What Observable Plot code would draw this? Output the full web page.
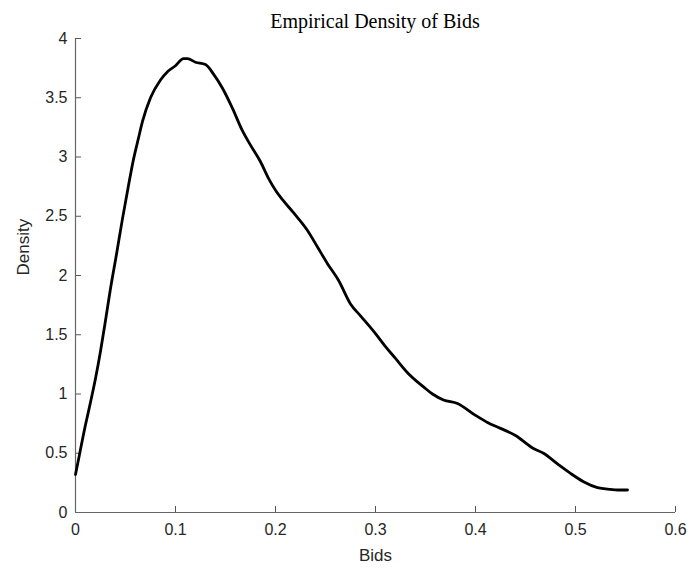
<!DOCTYPE html>
<html>
<head>
<meta charset="utf-8">
<script src="https://cdn.jsdelivr.net/npm/d3@7"></script>
<script src="https://cdn.jsdelivr.net/npm/@observablehq/plot@0.6"></script>
<style>
  html, body { margin: 0; padding: 0; background: #fff; }
  #wrap { position: relative; width: 691px; height: 571px; }
  #title { position: absolute; left: 75px; width: 600px; top: 10px; text-align: center;
           font-family: "Liberation Serif", "DejaVu Serif", serif; font-size: 20px; color: #000; }
</style>
</head>
<body>
<div id="wrap">
  <div id="title">Empirical Density of Bids</div>
</div>
<script>
const bids = [0, 0.004, 0.010, 0.015, 0.020, 0.025, 0.030, 0.035, 0.041, 0.047, 0.053, 0.058, 0.063, 0.067, 0.075, 0.085, 0.092, 0.100, 0.108, 0.112, 0.120, 0.130, 0.138, 0.147, 0.157, 0.167, 0.175, 0.185, 0.193, 0.200, 0.207, 0.218, 0.232, 0.242, 0.252, 0.263, 0.275, 0.285, 0.300, 0.310, 0.320, 0.332, 0.348, 0.357, 0.368, 0.382, 0.400, 0.412, 0.425, 0.440, 0.458, 0.468, 0.482, 0.495, 0.508, 0.522, 0.535, 0.542, 0.552];
const density = [0.32, 0.49, 0.74, 0.93, 1.13, 1.36, 1.62, 1.89, 2.18, 2.48, 2.76, 2.98, 3.16, 3.30, 3.50, 3.65, 3.72, 3.77, 3.83, 3.83, 3.80, 3.78, 3.70, 3.58, 3.41, 3.22, 3.10, 2.96, 2.82, 2.72, 2.64, 2.53, 2.38, 2.24, 2.10, 1.96, 1.76, 1.66, 1.51, 1.40, 1.30, 1.18, 1.06, 1.00, 0.95, 0.92, 0.82, 0.76, 0.71, 0.65, 0.54, 0.50, 0.41, 0.33, 0.26, 0.21, 0.195, 0.19, 0.19];
const xTicks = [0, 0.1, 0.2, 0.3, 0.4, 0.5, 0.6];
const yTicks = [0, 0.5, 1, 1.5, 2, 2.5, 3, 3.5, 4];
const yTickLabels = ["0", "0.5", "1", "1.5", "2", "2.5", "3", "3.5", "4"];

const data = bids.map((b, i) => ({bid: b, density: density[i]}));

const axisColor = "#262626";
const chart = Plot.plot({
  width: 691,
  height: 571,
  marginLeft: 75,
  marginRight: 16,
  marginTop: 38,
  marginBottom: 59,
  style: {fontFamily: "'Liberation Sans', Arial, sans-serif", fontSize: "16px", color: axisColor, background: "#fff"},
  x: {domain: [0, 0.6]},
  y: {domain: [0, 4]},
  marks: [
    Plot.axisX(xTicks, {tickSize: -6, tickPadding: 17, tickFormat: d => String(d), stroke: "#555", fill: axisColor, fontSize: 16, label: null}),
    Plot.axisY(yTicks, {tickSize: -6, tickPadding: 14, tickFormat: (d, i) => yTickLabels[i], stroke: "#555", fill: axisColor, fontSize: 16, label: null}),
    Plot.ruleY([0], {stroke: "#666", strokeWidth: 1.2}),
    Plot.ruleX([0], {stroke: "#666", strokeWidth: 1.2}),
    Plot.line(data, {x: "bid", y: "density", curve: "monotone-x", stroke: "#000", strokeWidth: 2.8, strokeLinejoin: "round", strokeLinecap: "round"}),
    Plot.text(["Bids"], {frameAnchor: "bottom", dy: 48, text: d => d, fontSize: 17, fill: axisColor}),
    Plot.text(["Density"], {frameAnchor: "left", dx: -52, rotate: -90, text: d => d, fontSize: 17, fill: axisColor})
  ]
});
document.getElementById("wrap").appendChild(chart);
</script>
</body>
</html>
